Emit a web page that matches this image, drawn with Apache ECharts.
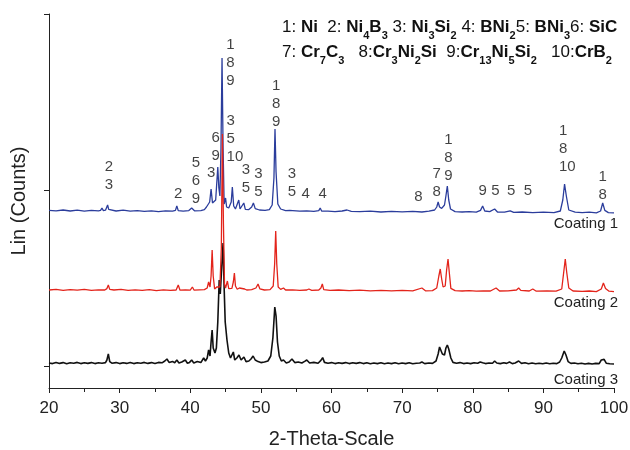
<!DOCTYPE html>
<html>
<head>
<meta charset="utf-8">
<script src="https://cdn.jsdelivr.net/npm/echarts@6/dist/echarts.min.js"></script>
<style>html,body{margin:0;padding:0;background:#fff}#c{width:630px;height:450px}</style>
</head>
<body>
<div id="c"></div>
<script>
// 2θ axis ticks
const xTicks = [20, 30, 40, 50, 60, 70, 80, 90, 100];
const yTickValues = [110, 990, 1870];

// Coating 1 (blue) [2θ, counts]
const coating1 = [[20,888],[21,886],[22,890],[23,885],[24,889],[25,884],[26,888],[27,886],[27.3,888],[27.5,900],[27.7,887],[28.0,889],[28.15,895],[28.3,915],[28.45,893],[28.7,887],[29.5,885],[30.5,889],[31.5,884],[32.5,887],[33.5,883],[34.5,886],[35.5,882],[36.5,886],[37.5,884],[37.9,888],[38.1,910],[38.3,887],[39.0,884],[39.8,887],[40.2,900],[40.6,886],[41.5,887],[42.0,892],[42.3,905],[42.55,900],[42.75,930],[42.95,995],[43.15,925],[43.35,915],[43.6,940],[43.9,1105],[44.05,1000],[44.2,960],[44.35,1200],[44.5,1650],[44.65,1200],[44.8,920],[45.0,950],[45.15,905],[45.45,900],[45.8,930],[45.96,1005],[46.15,910],[46.4,895],[46.87,940],[47.05,895],[47.3,898],[47.58,925],[47.8,893],[48.3,892],[48.7,905],[48.94,925],[49.2,897],[49.8,890],[50.6,888],[51.2,892],[51.6,915],[51.85,1050],[52.0,1295],[52.15,1080],[52.4,920],[52.8,895],[53.5,887],[54.1,888],[54.3,895],[54.5,887],[55.5,884],[56.5,886],[57.5,883],[58.2,887],[58.4,900],[58.6,885],[59.5,884],[60.5,882],[61.5,885],[62.2,890],[62.8,883],[64,882],[65.5,884],[67,880],[68.5,883],[70,881],[71.5,883],[72.8,880],[73.8,884],[74.6,890],[74.9,905],[75.1,930],[75.3,905],[75.6,898],[76.0,915],[76.2,960],[76.4,1010],[76.6,940],[76.85,895],[77.5,882],[78.5,880],[79.5,882],[80.5,879],[81.1,888],[81.4,910],[81.7,885],[82.4,882],[83.1,895],[83.5,880],[84.5,879],[85.3,886],[85.8,878],[87,880],[88.5,877],[90,879],[91.5,877],[92.4,885],[92.75,940],[93.0,1020],[93.25,960],[93.6,890],[94.5,879],[95.5,877],[96.5,879],[97.5,876],[98.1,885],[98.4,925],[98.7,888],[99.2,877],[100,876]];

// Coating 2 (red)
const coating2 = [[20,490],[21,493],[22,488],[23,492],[24,489],[25,493],[26,488],[27,491],[27.9,490],[28.2,497],[28.4,515],[28.6,493],[29.2,490],[30.2,493],[31.2,488],[32.2,491],[33.2,488],[34.2,492],[35.2,487],[36.2,491],[37.2,488],[38.0,490],[38.3,515],[38.55,489],[39.3,491],[40.0,489],[40.3,505],[40.55,489],[41.3,491],[42.0,492],[42.4,500],[42.6,530],[42.8,505],[42.95,560],[43.1,690],[43.25,560],[43.45,495],[43.75,505],[43.95,495],[44.2,505],[44.4,700],[44.55,1270],[44.7,820],[44.85,520],[45.0,500],[45.26,535],[45.45,497],[45.9,498],[46.1,530],[46.25,575],[46.4,510],[46.65,494],[46.96,500],[47.2,492],[47.7,495],[48.0,490],[48.7,492],[49.3,500],[49.6,520],[49.85,496],[50.5,490],[51.3,492],[51.75,510],[51.95,620],[52.1,785],[52.25,620],[52.45,505],[52.8,493],[53.2,500],[53.5,490],[54.5,491],[55.5,488],[56.5,490],[56.8,495],[57.2,488],[58.2,490],[58.5,500],[58.7,520],[58.9,492],[59.8,488],[61,490],[62.5,487],[64,489],[65.5,486],[67,488],[68.5,486],[70,488],[71.5,486],[72.8,500],[73.3,486],[74.3,487],[74.9,500],[75.2,560],[75.4,595],[75.6,545],[75.8,505],[76.1,510],[76.3,590],[76.5,645],[76.7,570],[76.9,498],[77.5,487],[78.5,485],[79.5,487],[80.5,484],[81.5,486],[82.5,485],[83.3,500],[83.8,485],[85,486],[86.2,490],[86.5,500],[86.8,488],[88.0,485],[88.5,495],[89,484],[90.5,486],[91.8,484],[92.6,495],[92.85,570],[93.1,645],[93.3,580],[93.6,500],[94.2,485],[95.5,483],[96.5,485],[97.5,482],[98.2,495],[98.5,525],[98.8,498],[99.3,484],[100,482]];

// Coating 3 (black)
const coating3 = [[20,125],[20.5,122],[21,128],[21.5,123],[22,127],[22.5,121],[23,126],[23.5,124],[24,128],[24.5,122],[25,126],[25.5,123],[26,127],[26.5,122],[27,126],[27.5,124],[28.0,127],[28.2,140],[28.4,170],[28.6,132],[28.9,124],[29.5,127],[30,122],[30.5,126],[31,123],[31.5,128],[32,122],[32.5,126],[33,124],[33.5,128],[34,123],[34.5,127],[35,122],[35.5,128],[36,126],[36.4,135],[36.7,145],[37.0,128],[37.5,133],[37.8,126],[38.1,140],[38.4,125],[38.8,130],[39.3,140],[39.6,124],[39.9,128],[40.2,140],[40.5,125],[41.0,132],[41.5,127],[41.9,150],[42.15,135],[42.4,150],[42.6,190],[42.8,160],[42.95,230],[43.1,290],[43.25,200],[43.5,175],[43.7,200],[43.9,330],[44.1,540],[44.25,470],[44.45,600],[44.65,725],[44.8,500],[44.95,330],[45.2,240],[45.45,175],[45.7,150],[45.9,160],[46.1,180],[46.3,140],[46.6,150],[46.9,165],[47.2,140],[47.6,155],[47.9,132],[48.3,135],[48.6,145],[48.9,160],[49.2,140],[49.6,132],[50.0,127],[50.5,130],[51.0,135],[51.4,160],[51.7,250],[51.97,405],[52.15,360],[52.35,230],[52.6,160],[52.9,135],[53.2,140],[53.6,125],[54.0,130],[54.4,145],[54.8,127],[55.3,130],[55.8,125],[56.2,133],[56.5,140],[56.9,125],[57.5,128],[58.1,124],[58.5,138],[58.75,152],[59.0,128],[59.5,124],[60,127],[60.5,122],[61,126],[61.5,123],[62,127],[62.5,122],[63,126],[63.5,123],[64,127],[64.5,122],[65,126],[65.5,121],[66,125],[66.5,122],[67,126],[67.5,121],[68,125],[68.5,122],[69,126],[69.5,121],[70,125],[70.5,122],[71,126],[71.5,121],[72,124],[72.5,125],[72.8,130],[73.2,122],[73.8,125],[74.3,123],[74.8,135],[75.1,170],[75.3,205],[75.5,210],[75.7,170],[76.0,165],[76.2,200],[76.4,215],[76.6,195],[76.9,150],[77.2,128],[77.7,124],[78.2,127],[78.7,122],[79.2,125],[79.7,122],[80.2,126],[80.7,124],[81.05,130],[81.4,126],[81.8,122],[82.3,125],[82.8,124],[83.1,135],[83.4,125],[83.9,122],[84.4,126],[84.8,123],[85.2,130],[85.6,122],[86.0,125],[86.5,135],[86.9,123],[87.4,126],[87.9,121],[88.4,125],[88.9,121],[89.4,124],[89.9,121],[90.4,125],[90.9,121],[91.4,124],[91.9,122],[92.3,130],[92.6,150],[92.95,185],[93.2,165],[93.5,132],[93.9,123],[94.4,125],[94.9,121],[95.4,124],[95.9,120],[96.4,123],[96.9,120],[97.4,123],[97.9,122],[98.2,140],[98.4,150],[98.6,143],[98.9,124],[99.4,121],[100,120]];

// Peak phase annotations: [2θ, counts level, text, align]
const annotations = [
  [28.5,1061,'2\n3','center'],[38.3,973,'2','center'],[40.8,1038,'5\n6\n9','center'],
  [42.95,1076,'3','center'],[43.6,1206,'6\n9','center'],[45.7,1624,'1\n8\n9','center'],
  [45.15,1246,'3\n5\n10','left'],[47.9,1044,'3\n5','center'],[49.65,1024,'3\n5','center'],
  [52.15,1422,'1\n8\n9','center'],[54.4,1024,'3\n5','center'],[56.35,970,'4','center'],
  [58.75,970,'4','center'],[72.3,956,'8','center'],[74.9,1027,'7\n8','center'],
  [76.55,1150,'1\n8\n9','center'],[81.4,986,'9','center'],[83.2,986,'5','center'],
  [85.45,986,'5','center'],[87.8,986,'5','center'],[92.2,1198,'1\n8\n10','left'],
  [98.4,1013,'1\n8','center']
];

const seriesNames = ['Coating 1', 'Coating 2', 'Coating 3'];
const FONT = "'Liberation Sans', Arial, Helvetica, sans-serif";

const chart = echarts.init(document.getElementById('c'), null, {renderer: 'canvas'});

const legendText =
  '{n|1: }{b|Ni}{n|  2: }{b|Ni}{s|4}{b|B}{s|3}{n| 3: }{b|Ni}{s|3}{b|Si}{s|2}{n| 4: }{b|BNi}{s|2}{n|5: }{b|BNi}{s|3}{n|6: }{b|SiC}\n' +
  '{n|7: }{b|Cr}{s|7}{b|C}{s|3}{n|   8:}{b|Cr}{s|3}{b|Ni}{s|2}{b|Si}{n|  9:}{b|Cr}{s|13}{b|Ni}{s|5}{b|Si}{s|2}{n|   10:}{b|CrB}{s|2}';

chart.setOption({
  animation: false,
  backgroundColor: '#fff',
  grid: {left: 49, right: 16, top: 14, bottom: 62, containLabel: false, outerBoundsMode: 'none'},
  xAxis: {
    type: 'value', min: xTicks[0], max: xTicks[xTicks.length-1], interval: 10,
    name: '2-Theta-Scale', nameLocation: 'middle', nameGap: 41,
    nameTextStyle: {fontSize: 20, color: '#222', fontFamily: FONT},
    axisLine: {show: true, lineStyle: {color: '#222', width: 1}},
    axisTick: {show: true, inside: false, length: 5, lineStyle: {color: '#222'}},
    minorTick: {show: true, splitNumber: 2, length: 4, lineStyle: {color: '#222'}},
    axisLabel: {fontSize: 17, color: '#222', margin: 12, fontFamily: FONT},
    splitLine: {show: false}
  },
  yAxis: {
    type: 'value', min: 0, max: 1870,
    name: 'Lin (Counts)', nameLocation: 'middle', nameGap: 20,
    nameTextStyle: {fontSize: 20, color: '#222', fontFamily: FONT},
    axisLine: {show: true, lineStyle: {color: '#222', width: 1}},
    axisTick: {show: true, length: 5, customValues: yTickValues, lineStyle: {color: '#222'}},
    axisLabel: {show: false, customValues: yTickValues},
    splitLine: {show: false}
  },
  graphic: [
    {type: 'text', left: 282, top: 19, z: 100, style: {
      text: legendText, fill: '#111', font: '17px ' + FONT,
      rich: {
        n: {fontSize: 17, fontFamily: FONT, lineHeight: 25, verticalAlign: 'bottom'},
        b: {fontSize: 17, fontWeight: 'bold', fontFamily: FONT, lineHeight: 25, verticalAlign: 'bottom'},
        s: {fontSize: 11, fontWeight: 'bold', fontFamily: FONT, lineHeight: 11, verticalAlign: 'bottom', padding: [0,0,-5,0]}
      }
    }},
    {type: 'text', right: 12, top: 216, style: {text: seriesNames[0], fill: '#222', font: '15px ' + FONT}},
    {type: 'text', right: 12, top: 295, style: {text: seriesNames[1], fill: '#222', font: '15px ' + FONT}},
    {type: 'text', right: 12, top: 372, style: {text: seriesNames[2], fill: '#222', font: '15px ' + FONT}}
  ],
  series: [
    {name: seriesNames[2], type: 'line', data: coating3, showSymbol: false, symbol: 'none',
     lineStyle: {color: '#111', width: 1.6}, z: 2},
    {name: seriesNames[0], type: 'line', data: coating1, showSymbol: false, symbol: 'none',
     lineStyle: {color: '#2b3d9c', width: 1.3}, z: 3},
    {name: seriesNames[1], type: 'line', data: coating2, showSymbol: false, symbol: 'none',
     lineStyle: {color: '#e3241b', width: 1.3}, z: 4},
    {name: 'labels', type: 'scatter', symbolSize: 1, itemStyle: {color: 'rgba(0,0,0,0)'}, z: 5,
     data: annotations.map(a => ({value: [a[0], a[1]], text: a[2],
       label: {align: a[3]}})),
     label: {show: true, position: 'inside', formatter: p => p.data.text,
       fontSize: 15, lineHeight: 18, color: '#111', fontFamily: FONT}}
  ]
});
</script>
</body>
</html>
